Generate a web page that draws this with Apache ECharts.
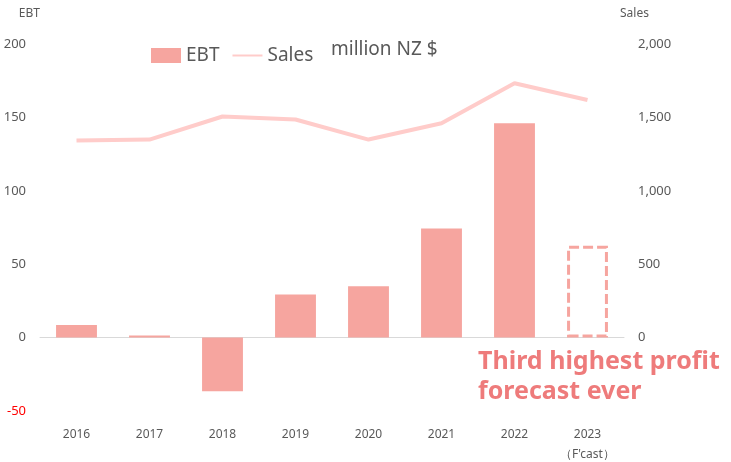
<!DOCTYPE html>
<html>
<head>
<meta charset="utf-8">
<script src="https://cdn.jsdelivr.net/npm/echarts@6/dist/echarts.min.js"></script>
<style>
  html, body { margin: 0; padding: 0; background: #fff; }
  #main { width: 731px; height: 462px; }
</style>
</head>
<body>
<div id="main"></div>
<script>
var years = ['2016', '2017', '2018', '2019', '2020', '2021', '2022', '2023\n（F\'cast）'];
var ebt = [8.6, 1.4, -36.5, 29.3, 34.9, 74.4, 146, 62.5];
var sales = [1342, 1349, 1506, 1486, 1349, 1460, 1733, 1619];
var ebtTicks = [-50, 0, 50, 100, 150, 200];
var salesTicks = [-500, 0, 500, 1000, 1500, 2000];

var barColor = '#F6A59F';
var lineColor = '#FFCCCA';
var textColor = '#595959';
var font = 'Noto Sans';

var chart = echarts.init(document.getElementById('main'));

// last bar is the forecast, drawn as dashed outline
var ebtData = ebt.map(function (v, i) {
  if (i === ebt.length - 1) {
    return {
      value: v,
      itemStyle: {
        color: 'rgba(255,255,255,0)',
        borderColor: barColor,
        borderWidth: 3,
        borderType: [10, 4]
      }
    };
  }
  return v;
});

var option = {
  animation: false,
  textStyle: { fontFamily: font },
  grid: { left: 40, right: 107, top: 44, bottom: 51, outerBoundsMode: 'none', containLabel: false },
  legend: {
    left: 146,
    top: 41,
    itemWidth: 30,
    itemHeight: 15,
    itemGap: 12,
    textStyle: { fontSize: 19, color: textColor, fontFamily: font },
    data: [
      { name: 'EBT', icon: 'rect' },
      { name: 'Sales', itemStyle: { opacity: 0 } }
    ]
  },
  graphic: [
    {
      type: 'text', left: 331, top: 40,
      style: { text: 'million NZ $', fontSize: 19, fill: textColor, fontFamily: font }
    },
    {
      type: 'text', left: 478, top: 347,
      style: {
        text: 'Third highest profit\nforecast ever',
        fontSize: 25, fontWeight: 'bold', lineHeight: 30,
        fill: '#EE7B7B', fontFamily: font
      }
    }
  ],
  xAxis: {
    type: 'category',
    data: years,
    axisLine: { show: true, onZero: true, lineStyle: { color: '#D9D9D9', width: 1 } },
    axisTick: { show: false },
    axisLabel: { color: textColor, fontSize: 12, margin: 14, lineHeight: 20, fontFamily: font }
  },
  yAxis: [
    {
      type: 'value',
      name: 'EBT',
      nameLocation: 'end',
      nameGap: 24,
      nameTextStyle: { color: textColor, fontSize: 12, align: 'right' },
      min: ebtTicks[0],
      max: ebtTicks[ebtTicks.length - 1],
      interval: 50,
      splitLine: { show: false },
      axisLine: { show: false },
      axisTick: { show: false },
      axisLabel: {
        fontSize: 13,
        margin: 14,
        color: function (v) { return v < 0 ? '#FF0000' : textColor; }
      }
    },
    {
      type: 'value',
      name: 'Sales',
      nameLocation: 'end',
      nameGap: 24,
      nameTextStyle: { color: textColor, fontSize: 12, align: 'left', padding: [0, 0, 0, -4] },
      min: salesTicks[0],
      max: salesTicks[salesTicks.length - 1],
      interval: 500,
      splitLine: { show: false },
      axisLine: { show: false },
      axisTick: { show: false },
      axisLabel: {
        fontSize: 13,
        margin: 14,
        color: textColor,
        formatter: function (v) { return v < 0 ? '' : v.toLocaleString('en-US'); }
      }
    }
  ],
  series: [
    {
      name: 'EBT',
      type: 'bar',
      yAxisIndex: 0,
      barWidth: '56%',
      itemStyle: { color: barColor },
      data: ebtData
    },
    {
      name: 'Sales',
      type: 'line',
      yAxisIndex: 1,
      symbol: 'none',
      lineStyle: { color: lineColor, width: 4 },
      itemStyle: { color: lineColor },
      data: sales
    }
  ]
};

chart.setOption(option);
</script>
</body>
</html>
